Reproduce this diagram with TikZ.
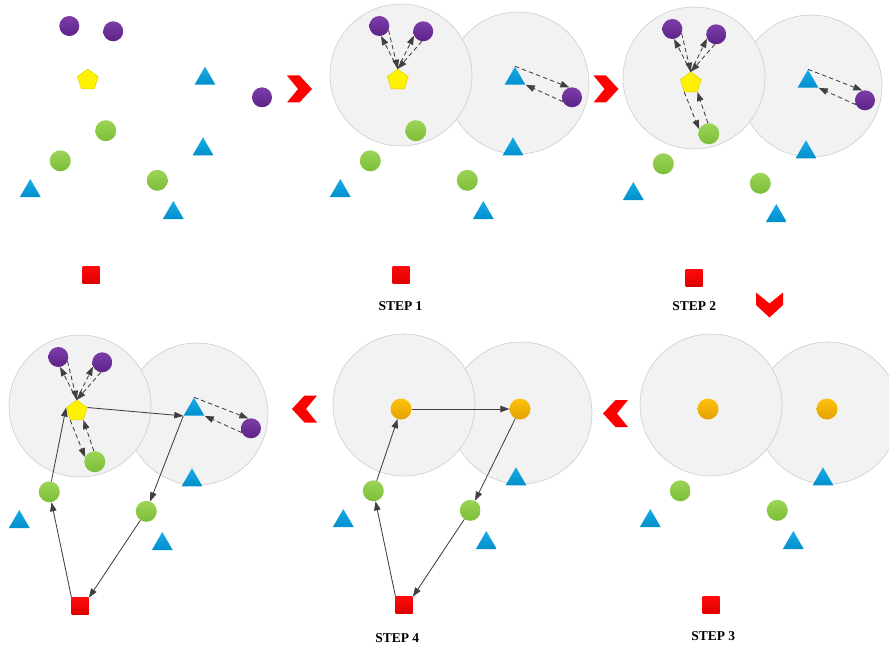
\documentclass[tikz,border=0pt]{standalone}
\usepackage{fontspec}
\setmainfont{Liberation Serif}
\usetikzlibrary{shapes.geometric,arrows.meta,calc}

\definecolor{purpT}{HTML}{7D3DA8}
\definecolor{purpB}{HTML}{5C2388}
\definecolor{grnT}{HTML}{9CD457}
\definecolor{grnB}{HTML}{7BBE38}
\definecolor{bluT}{HTML}{19ACE6}
\definecolor{bluB}{HTML}{008FCC}
\definecolor{orgT}{HTML}{FFC20A}
\definecolor{orgB}{HTML}{E3A200}
\definecolor{redT}{HTML}{FF0A0A}
\definecolor{redB}{HTML}{DC0000}
\definecolor{pentD}{HTML}{D8CC00}
\definecolor{zoneF}{HTML}{F2F2F2}
\definecolor{zoneD}{HTML}{CDCDCD}
\definecolor{lineC}{HTML}{404040}
\definecolor{chevC}{HTML}{FF0000}

\tikzset{
  ball/.style={circle, inner sep=0pt, minimum size=20pt, draw=none},
  purp/.style={ball, top color=purpT, bottom color=purpB},
  grn/.style={ball, minimum size=21pt, top color=grnT, bottom color=grnB},
  org/.style={ball, minimum size=21pt, top color=orgT, bottom color=orgB},
  tri/.style={regular polygon, regular polygon sides=3, minimum size=24pt,
    inner sep=0pt, draw=none, top color=bluT, bottom color=bluB},
  pent/.style={regular polygon, regular polygon sides=5, minimum size=22pt,
    inner sep=0pt, fill=yellow, draw=pentD, line width=0.4pt},
  sqr/.style={rectangle, minimum size=17pt, inner sep=0pt, draw=none,
    top color=redT, bottom color=redB},
  zone/.style={circle, minimum size=142pt, inner sep=0pt, fill=zoneF,
    draw=zoneD, line width=0.6pt},
  link/.style={draw=lineC, line width=0.85pt,
    -{Triangle[length=9pt,width=6.5pt]}},
  dlink/.style={link, dash pattern=on 4.5pt off 3pt},
  steplbl/.style={font=\bfseries\fontsize{13.5}{16}\selectfont, inner sep=0pt},
  chev/.pic={\fill[chevC] (-12.5,-13.5) -- (0,-13.5) -- (12.5,0) -- (0,13.5)
    -- (-12.5,13.5) -- (-1.5,0) -- cycle;}
}

% the two gray search zones of a panel
\newcommand\zones[1]{%
  \node[zone] (#1zr) at (208,83) {};
  \node[zone] (#1zl) at (91,75) {};}
% points present in every panel
\newcommand\corepts[1]{%
  \node[grn] (#1g2) at (60.3,160.8) {};
  \node[grn] (#1g3) at (157.3,180.3) {};
  \node[tri] (#1t2) at (203,149.3) {};
  \node[tri] (#1t3) at (30.3,191) {};
  \node[tri] (#1t4) at (173.3,213) {};
  \node[sqr] (#1sq) at (91.2,275.3) {};}
% the full point set
\newcommand\fullpts[1]{%
  \corepts{#1}
  \node[purp] (#1p1) at (69.3,26) {};
  \node[purp] (#1p2) at (113.2,31.3) {};
  \node[purp] (#1p3) at (262,97.3) {};
  \node[pent] (#1pe) at (87.8,80) {};
  \node[tri] (#1t1) at (205,78.7) {};
  \node[grn] (#1g1) at (105.8,130.7) {};}
% merged centres
\newcommand\merged[1]{%
  \node[org] (#1o1) at (88,79) {};
  \node[org] (#1o2) at (207,79) {};}
% dashed two-way links inside the zones
\newcommand\pairs[1]{%
  \draw[dlink] (#1pe.corner 1) -- (#1p1.280);
  \draw[dlink] (#1p1.335) -- (#1pe.corner 1);
  \draw[dlink] (#1pe.corner 1) -- (#1p2.205);
  \draw[dlink] (#1p2.262) -- (#1pe.corner 1);
  \draw[dlink] (#1t1.corner 1) -- (#1p3.105);
  \draw[dlink] (#1p3.205) -- (#1t1.corner 3);}
\newcommand\greenpair[1]{%
  \draw[dlink] (#1pe.corner 3) -- (#1g1.155);
  \draw[dlink] (#1g1.95) -- (#1pe.corner 4);}

\begin{document}
\begin{tikzpicture}[x=1pt, y=-1pt]
\useasboundingbox (0,0) rectangle (889,650);

% initial points
\begin{scope}
  \fullpts{a}
\end{scope}

% step 1
\begin{scope}[shift={(310,0)}]
  \zones{b}
  \fullpts{b}
  \pairs{b}
\end{scope}
\node[steplbl] (s1) at (400.5,305.7) {STEP 1};

% step 2
\begin{scope}[shift={(603,3)}]
  \zones{c}
  \fullpts{c}
  \pairs{c}
  \greenpair{c}
\end{scope}
\node[steplbl] (s2) at (694.2,306) {STEP 2};

% step 3
\begin{scope}[shift={(620,330)}]
  \zones{d}
  \corepts{d}
  \merged{d}
\end{scope}
\node[steplbl] (s3) at (713.2,635.7) {STEP 3};

% step 4
\begin{scope}[shift={(313,330)}]
  \zones{e}
  \corepts{e}
  \merged{e}
  \draw[link] (esq.north west) -- (eg2);
  \draw[link] (eg2) -- (eo1);
  \draw[link] (eo1) -- (eo2);
  \draw[link] (eo2) -- (eg3);
  \draw[link] (eg3) -- (esq.north east);
\end{scope}
\node[steplbl] (s4) at (397.2,638) {STEP 4};

% final result
\begin{scope}[shift={(-11,331)}]
  \zones{f}
  \fullpts{f}
  \pairs{f}
  \greenpair{f}
  \draw[link] (fsq.north west) -- (fg2);
  \draw[link] (fg2) -- (fpe.corner 2);
  \draw[link] (fpe.corner 5) -- (ft1.corner 2);
  \draw[link] (ft1.corner 2) -- (fg3);
  \draw[link] (fg3) -- (fsq.north east);
\end{scope}

% flow chevrons
\pic at (299.5,89) {chev};
\pic at (606,89) {chev};
\pic[rotate=-90] at (769.5,305) {chev};
\pic[rotate=180] at (615.5,413.5) {chev};
\pic[rotate=180] at (304.5,409) {chev};
\end{tikzpicture}
\end{document}
